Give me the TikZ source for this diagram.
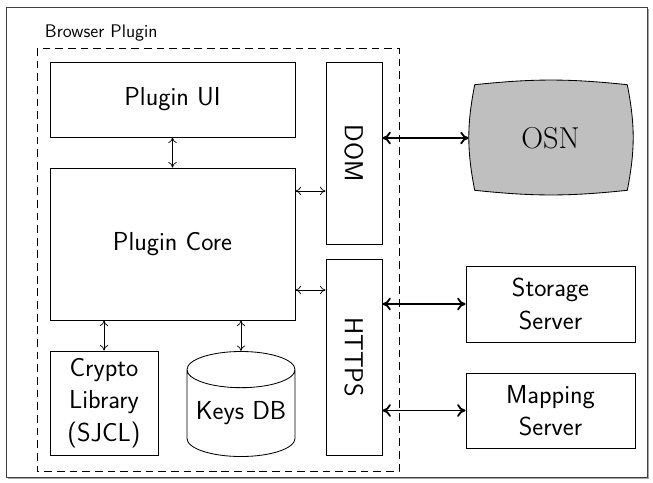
\documentclass[tikz,border=0pt]{standalone}
\usepackage{fontspec}
\usepackage{tikz}
\usetikzlibrary{arrows.meta,shapes.geometric,calc}

\begin{document}
\begin{tikzpicture}[x=0.025cm, y=0.025cm,
		box/.style={draw, line width=0.6pt, inner sep=0pt, align=center,
			font=\sffamily\fontsize{18.5}{23}\selectfont},
		sarrow/.style={line width=0.5pt, {To[length=4pt,width=6pt]}-{To[length=4pt,width=6pt]}},
		barrow/.style={line width=1.3pt, {To[length=6pt,width=9pt]}-{To[length=6pt,width=9pt]}}]
		\useasboundingbox (0,0) rectangle (653,-482);

		% outer frame with a little shadow
		\fill[gray!70] (8,-9) rectangle (649,-479);
		\draw[black!75, fill=white, line width=0.6pt] (6,-7) rectangle (647,-477);

		\node[anchor=west, font=\sffamily\fontsize{13}{15}\selectfont] (title) at (40,-33) {Browser Plugin};
		\draw[line width=0.6pt, dash pattern=on 5.5pt off 3.5pt] (37,-48) rectangle (399,-471);

		% plugin parts
		\node[box, minimum width=6.125cm, minimum height=1.875cm] (ui) at (172.5,-99.5) {Plugin UI};
		\node[box, minimum width=6.125cm, minimum height=3.8cm] (core) at (172.5,-244) {Plugin Core};
		\node[box, minimum width=1.4cm, minimum height=4.55cm] (dom) at (354,-153) {\rotatebox{-90}{DOM}};
		\node[box, minimum width=1.4cm, minimum height=4.9cm] (https) at (354,-357) {\rotatebox{-90}{HTTPS}};
		\node[box, minimum width=2.7cm, minimum height=2.6cm] (crypto) at (104,-403) {Crypto\\Library\\(SJCL)};
		\node[box, cylinder, shape border rotate=90, aspect=0.4, anchor=shape center,
			minimum width=2.7cm, minimum height=2.625cm] (keys) at (241,-404) {Keys DB};

		% outside world
		\node[minimum width=4.075cm, minimum height=2.9cm, inner sep=0pt] (osn) at (550.5,-138) {};
		\draw[line width=0.6pt, fill=gray!50]
			($(osn.north west)+(6,-5)$) to[bend left=6] ($(osn.north east)+(-5,-5)$)
			to[bend left=11] ($(osn.south east)+(-5,6)$)
			to[bend left=6] ($(osn.south west)+(6,6)$)
			to[bend left=11] cycle;
		\node[font=\fontsize{21.5}{25}\selectfont] (osntext) at (osn) {OSN};
		\node[box, minimum width=4.225cm, minimum height=1.9cm] (storage) at (550.5,-304) {Storage\\Server};
		\node[box, minimum width=4.225cm, minimum height=1.875cm] (mapping) at (550.5,-410.5) {Mapping\\Server};

		% connections
		\draw[sarrow] (ui) -- (core);
		\draw[sarrow] ([yshift=1.325cm]core.east) -- ([yshift=1.325cm]core.east -| dom.west);
		\draw[sarrow] ([yshift=-1.15cm]core.east) -- ([yshift=-1.15cm]core.east -| https.west);
		\draw[sarrow] (core.south -| crypto.north) -- (crypto.north);
		\draw[sarrow] (core.south -| keys.north) -- (keys.north);
		\draw[barrow] (osn.west -| dom.east) -- (osn.west);
		\draw[barrow] (storage.west -| https.east) -- (storage.west);
		\draw[barrow] (mapping.west -| https.east) -- (mapping.west);
	\end{tikzpicture}
\end{document}
